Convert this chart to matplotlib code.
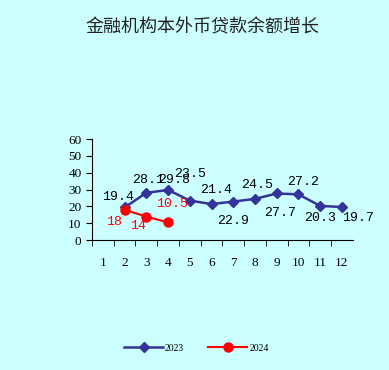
import matplotlib.pyplot as plt

# datos
meses = list(range(1, 13))
meses_2023 = [2, 3, 4, 5, 6, 7, 8, 9, 10, 11, 12]
valores_2023 = [19.4, 28.1, 29.8, 23.5, 21.4, 22.9, 24.5, 27.7, 27.2, 20.3, 19.7]
meses_2024 = [2, 3, 4]
valores_2024 = [18, 14, 10.5]
etiquetas_2024 = ['18', '14', '10.5']

# desplazamientos de las etiquetas en pixeles
desp_2023 = [(-7, 10), (2, 13), (6, 10), (0, 27), (5, 14), (0, -19),
             (2, 14), (3, -20), (5, 12), (0, -12), (16, -11)]
desp_2024 = [(-11, -12), (-8, -9), (4, 18)]

fondo = '#ccffff'
plt.rcParams['font.family'] = ['Liberation Serif', 'Noto Sans CJK SC', 'DejaVu Sans']

fig = plt.figure(figsize=(3.89, 3.70), dpi=100, facecolor=fondo)
ax = fig.add_axes([0.2365, 0.351, 0.6705, 0.273])
ax.set_facecolor(fondo)

l1, = ax.plot(meses_2023, valores_2023, color='#333399', marker='D', markersize=5.5,
              linewidth=1.8, label='2023')
l2, = ax.plot(meses_2024, valores_2024, color='red', marker='o', markersize=6.5,
              linewidth=1.5, label='2024')

for x, y, (dx, dy) in zip(meses_2023, valores_2023, desp_2023):
    ax.annotate(f'{y}', (x, y), xytext=(dx, dy), textcoords='offset pixels',
                ha='center', va='center', fontsize=9.5, color='black',
                family=['Liberation Mono'])
for x, y, t, (dx, dy) in zip(meses_2024, valores_2024, etiquetas_2024, desp_2024):
    ax.annotate(t, (x, y), xytext=(dx, dy), textcoords='offset pixels',
                ha='center', va='center', fontsize=9.5, color='red',
                family=['Liberation Mono'])

ax.set_xlim(0.5, 12.5)
ax.set_ylim(0, 60)
ax.set_yticks(range(0, 61, 10))
ax.set_xticks(meses)
ax.set_xticks([m + 0.5 for m in range(0, 12)], minor=True)
ax.tick_params(axis='x', which='major', length=0, pad=12, labelsize=9.5)
ax.tick_params(axis='x', which='minor', length=4, direction='out')
ax.tick_params(axis='y', length=4, direction='out', labelsize=9.5)
ax.spines['top'].set_visible(False)
ax.spines['right'].set_visible(False)

fig.text(0.52, 0.927, '金融机构本外币贷款余额增长', ha='center', va='center',
         fontsize=13, family=['Noto Sans CJK SC'], color='#222222')

fig.legend(handles=[l1, l2], loc='center', bbox_to_anchor=(0.505, 0.059), ncol=2,
           frameon=False, fontsize=7, handlelength=4, columnspacing=2.5,
           handletextpad=0.2)

fig.savefig('out.png', dpi=100, facecolor=fondo)
